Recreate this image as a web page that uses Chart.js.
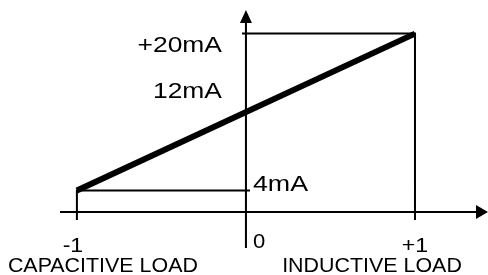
<!DOCTYPE html>
<html>
<head>
<meta charset="utf-8">
<script src="https://cdn.jsdelivr.net/npm/chart.js@4/dist/chart.umd.min.js"></script>
<style>
    html, body { margin: 0; padding: 0; background: #fff; }
    #wrap { width: 488px; height: 275px; }
</style>
</head>
<body>
<div id="wrap"><canvas id="loadChart" width="488" height="275"></canvas></div>
<script>
// Chart data
const loadPhase = [-1, 1];
const outputCurrent = [4, 20];
const xTickValues = [-1, 0, 1];
const xTickLabels = ['-1', '0', '+1'];
const yTickValues = [20, 12, 4];
const yTickLabels = ['+20mA', '12mA', '4mA'];
const loadNames = ['CAPACITIVE LOAD', 'INDUCTIVE LOAD'];

const FAMILY = '"Liberation Sans", Arial, sans-serif';

// Text drawn a bit wider than the plain font, like the original artwork
function drawText(ctx, text, x, y, align, sx) {
    ctx.save();
    ctx.translate(x, y);
    ctx.scale(sx, 1);
    ctx.textAlign = align;
    ctx.fillText(text, 0, 0);
    ctx.restore();
}

// Draws the arrowed axes and the guide lines
const axesPlugin = {
    id: 'axesPlugin',
    beforeDatasetsDraw(chart) {
        const ctx = chart.ctx;
        const xs = chart.scales.x;
        const ys = chart.scales.y;
        const area = chart.chartArea;
        const x0 = xs.getPixelForValue(0);
        const xL = xs.getPixelForValue(loadPhase[0]);
        const xR = xs.getPixelForValue(loadPhase[1]);
        const yLo = ys.getPixelForValue(outputCurrent[0]);
        const yHi = ys.getPixelForValue(outputCurrent[1]);

        ctx.save();
        ctx.strokeStyle = '#000';
        ctx.fillStyle = '#000';
        ctx.lineWidth = 2;

        ctx.beginPath();
        // x axis
        ctx.moveTo(area.left, area.bottom);
        ctx.lineTo(area.right - 10, area.bottom);
        // y axis
        ctx.moveTo(x0, area.bottom + 36);
        ctx.lineTo(x0, area.top + 8);
        // guides
        ctx.moveTo(x0 - 4, yHi);
        ctx.lineTo(xR, yHi);
        ctx.lineTo(xR, area.bottom + 8);
        ctx.moveTo(x0 + 4, yLo);
        ctx.lineTo(xL, yLo);
        ctx.lineTo(xL, area.bottom + 8);
        ctx.stroke();

        // arrow heads
        ctx.beginPath();
        ctx.moveTo(area.right + 1, area.bottom);
        ctx.lineTo(area.right - 11, area.bottom - 7);
        ctx.lineTo(area.right - 11, area.bottom + 7);
        ctx.closePath();
        ctx.moveTo(x0, area.top - 4);
        ctx.lineTo(x0 - 6, area.top + 9);
        ctx.lineTo(x0 + 6, area.top + 9);
        ctx.closePath();
        ctx.fill();
        ctx.restore();
    },
    afterDatasetsDraw(chart) {
        const ctx = chart.ctx;
        const xs = chart.scales.x;
        const ys = chart.scales.y;
        const area = chart.chartArea;
        const x0 = xs.getPixelForValue(0);

        ctx.save();
        ctx.fillStyle = '#000';
        ctx.textBaseline = 'alphabetic';

        // current labels
        ctx.font = '22px ' + FAMILY;
        const yOffsets = [18, -14, 1];
        yTickValues.forEach((v, i) => {
            const y = ys.getPixelForValue(v) + yOffsets[i];
            if (v === 4) {
                drawText(ctx, yTickLabels[i], x0 + 7, y, 'left', 1.22);
            } else {
                drawText(ctx, yTickLabels[i], x0 - 24, y, 'right', 1.2);
            }
        });

        // phase labels
        ctx.font = '21px ' + FAMILY;
        xTickValues.forEach((v, i) => {
            const x = xs.getPixelForValue(v);
            if (v === 0) {
                drawText(ctx, xTickLabels[i], x + 7, area.bottom + 36, 'left', 1.05);
            } else {
                drawText(ctx, xTickLabels[i], x - (v < 0 ? 4 : 0), area.bottom + 40, 'center', 1.1);
            }
        });

        drawText(ctx, loadNames[0], xs.getPixelForValue(-1) + 26, area.bottom + 60, 'center', 1.02);
        drawText(ctx, loadNames[1], xs.getPixelForValue(1) - 43, area.bottom + 60, 'center', 1.02);
        ctx.restore();
    }
};

const ctx = document.getElementById('loadChart').getContext('2d');
new Chart(ctx, {
    type: 'line',
    data: {
        datasets: [{
            label: 'Output current',
            data: loadPhase.map((x, i) => ({ x: x, y: outputCurrent[i] })),
            borderColor: '#000',
            borderWidth: 6,
            pointRadius: 0,
            fill: false,
            tension: 0
        }]
    },
    options: {
        responsive: false,
        animation: false,
        devicePixelRatio: 1,
        layout: {
            padding: { left: 60, right: 1, top: 14, bottom: 63 }
        },
        plugins: {
            legend: { display: false },
            tooltip: { enabled: false }
        },
        scales: {
            x: { type: 'linear', display: false, min: -1.1, max: 1.426 },
            y: { type: 'linear', display: false, min: 1.8, max: 22 }
        }
    },
    plugins: [axesPlugin]
});
</script>
</body>
</html>
